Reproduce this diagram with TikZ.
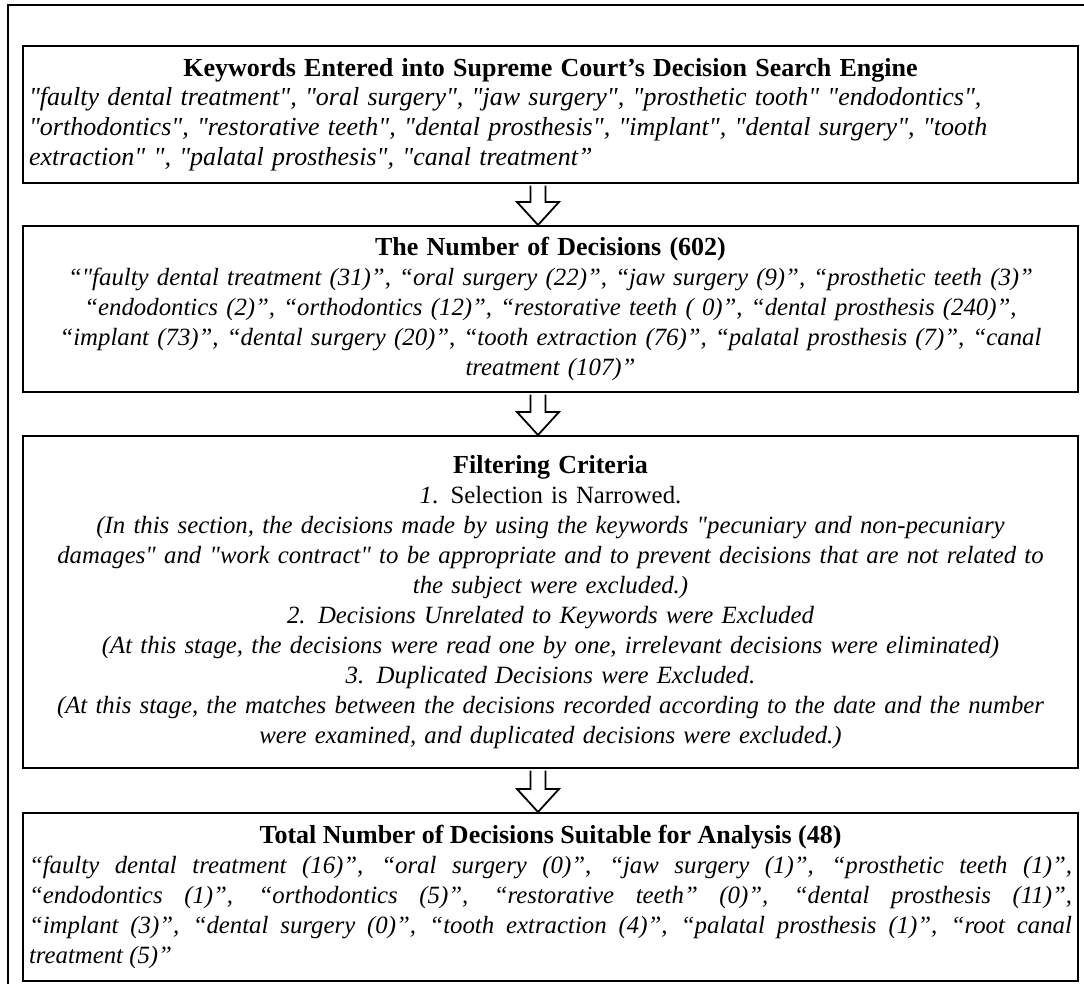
\documentclass[tikz,border=0pt]{standalone}
\usepackage{fontspec}
\setmainfont{Liberation Serif}[Ligatures=TeXOff]
\setlength{\parindent}{0pt}
\newcommand{\bodyfont}{\fontsize{24.8}{30}\selectfont}
\newcommand{\headfont}{\fontsize{26}{30}\selectfont\bfseries}

\begin{document}
\begin{tikzpicture}[x=1pt,y=1pt,
	box/.style={draw,line width=2.4pt,rectangle,anchor=north,inner xsep=6pt,inner ysep=3pt,text width=1043pt,font=\bodyfont},
	blockarrow/.style={draw,line width=1.8pt,fill=white,line join=miter}]
	\useasboundingbox (0,0) rectangle (1084,-983);
	% outer frame, open at right and bottom
	\draw[line width=1.8pt] (8,-990) -- (8,-5) -- (1090,-5);

	\node[box,align=left,minimum height=137pt] (B1) at (550.5,-45)
		{{\centering\headfont Keywords Entered into Supreme Court’s Decision Search Engine\par}
		\fontsize{26}{29.5}\selectfont\itshape "faulty dental treatment", "oral surgery", "jaw surgery", "prosthetic tooth" "endodontics",\\
		"orthodontics", "restorative teeth", "dental prosthesis", "implant", "dental surgery", "tooth\\
		extraction" ", "palatal prosthesis", "canal treatment”};
	\node[box,align=center,minimum height=166pt] (B2) at (550.5,-225)
		{{\headfont The Number of Decisions (602)}\\
		{\itshape “"faulty dental treatment (31)”, “oral surgery (22)”, “jaw surgery (9)”, “prosthetic teeth (3)”\\
		“endodontics (2)”, “orthodontics (12)”, “restorative teeth ( 0)”, “dental prosthesis (240)”,\\
		“implant (73)”, “dental surgery (20)”, “tooth extraction (76)”, “palatal prosthesis (7)”, “canal\\
		treatment (107)”}};
	\node[box,align=center,minimum height=332pt] (B3) at (550.5,-435)
		{{\headfont Filtering Criteria}\\
		\textit{1}. Selection is Narrowed.\\
		{\itshape (In this section, the decisions made by using the keywords "pecuniary and non-pecuniary\\
		damages" and "work contract" to be appropriate and to prevent decisions that are not related to\\
		the subject were excluded.)\\
		2. Decisions Unrelated to Keywords were Excluded\\
		(At this stage, the decisions were read one by one, irrelevant decisions were eliminated)\\
		3. Duplicated Decisions were Excluded.\\
		(At this stage, the matches between the decisions recorded according to the date and the number\\
		were examined, and duplicated decisions were excluded.)}};
	\node[box,align=justify,minimum height=168pt] (B4) at (550.5,-812)
		{{\centering\headfont Total Number of Decisions Suitable for Analysis (48)\par}
		\itshape “faulty dental treatment (16)”, “oral surgery (0)”, “jaw surgery (1)”, “prosthetic teeth (1)”,\linebreak
		“endodontics (1)”, “orthodontics (5)”, “restorative teeth” (0)”, “dental prosthesis (11)”,\linebreak
		“implant (3)”, “dental surgery (0)”, “tooth extraction (4)”, “palatal prosthesis (1)”, “root canal\linebreak
		treatment (5)”};

	% hollow arrows between the boxes
	\coordinate (AX) at (538,0);
	\foreach \u/\v in {B1/B2,B2/B3,B3/B4}{
		\coordinate (S) at (\u.south -| AX);
		\coordinate (T) at (\v.north -| AX);
		\draw[blockarrow] ([shift={(-7.5pt,-1.2pt)}]S) -- ([shift={(-7.5pt,23pt)}]T) -- ([shift={(-21pt,23pt)}]T)
			-- (T) -- ([shift={(21pt,23pt)}]T) -- ([shift={(7.5pt,23pt)}]T) -- ([shift={(7.5pt,-1.2pt)}]S);
	}
\end{tikzpicture}
\end{document}
